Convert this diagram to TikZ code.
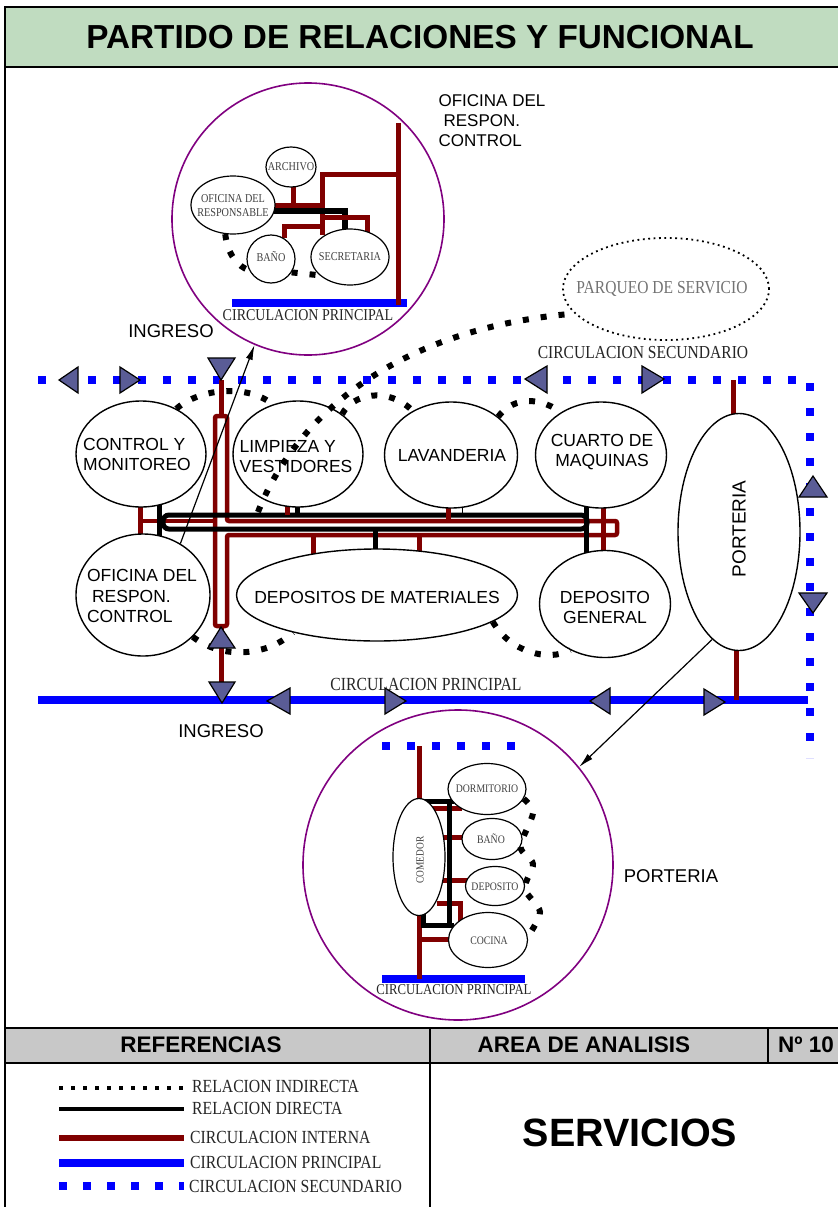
\documentclass[tikz,border=0pt]{standalone}
\usepackage{fontspec}
\setmainfont{Liberation Sans}
\newfontfamily\cser[FakeStretch=0.85]{Liberation Serif}
\usetikzlibrary{shapes.geometric,arrows.meta}
\definecolor{cRed}{RGB}{128,0,0}
\definecolor{cBlue}{RGB}{0,0,255}
\definecolor{cPur}{RGB}{128,0,128}
\definecolor{cTri}{RGB}{90,92,150}
\definecolor{cGreen}{RGB}{192,220,192}
\definecolor{cGray}{RGB}{200,200,200}
\newcommand{\myfs}[2]{\fontsize{#1}{#2}\selectfont}
\begin{document}
\begin{tikzpicture}[x=1pt,y=-1pt,
  el/.style={draw, ellipse, line width=1.4pt, fill=white, inner sep=0pt},
  sel/.style={draw, ellipse, line width=1.2pt, fill=white, inner sep=0pt},
  etxt/.style={inner sep=0pt, font=\myfs{17.5}{20}},
  stxt/.style={inner sep=0pt, font=\cser\myfs{12}{14}, text=black!75, align=center},
  rd/.style={draw=cRed, line width=5pt},
  bk/.style={draw=black, line width=5pt},
  ind/.style={draw=black, line width=6pt, dash pattern=on 6pt off 12pt},
  prin/.style={draw=cBlue, line width=8pt},
  secu/.style={draw=cBlue, line width=8pt, dash pattern=on 8pt off 17pt},
  tri/.style={fill=cTri, draw=black, line width=1.2pt, line join=miter},
  ring/.style={draw=cPur, line width=1.6pt, circle, inner sep=0pt},
  lab/.style={font=\cser\myfs{18.5}{20}, text=black!85, inner sep=0pt},
  slab/.style={font=\myfs{18.5}{20}, inner sep=0pt},
  arr/.style={draw=black, line width=1.2pt, -{Latex[length=15pt,width=7pt]}},
  hdr/.style={font=\bfseries\myfs{22.5}{24}, inner sep=0pt}
]
\useasboundingbox (0,0) rectangle (838,1207);
\fill[white] (0,0) rectangle (838,1207);

% ---------- frame and title ----------
\fill[cGreen] (5,7) rectangle (838,67);
\fill[cGray] (5,1028) rectangle (838,1063);
\draw[line width=2.5pt] (838,7) -- (5,7) -- (5,1207);
\draw[line width=2.5pt] (5,67) -- (838,67);
\draw[line width=2.5pt] (5,1028) -- (838,1028);
\draw[line width=2.5pt] (5,1063) -- (838,1063);
\draw[line width=1.8pt] (430,1028) -- (430,1207);
\draw[line width=1.8pt] (768,1028) -- (768,1063);
\node[inner sep=0pt, font=\bfseries\myfs{33.3}{35}] (title) at (420,37) {PARTIDO DE RELACIONES Y FUNCIONAL};
\node[hdr] (hRef) at (201,1045) {REFERENCIAS};
\node[hdr] (hArea) at (584,1045) {AREA DE ANALISIS};
\node[hdr, anchor=west] (hNum) at (778,1045) {Nº 10};
\node[inner sep=0pt, font=\bfseries\myfs{39.5}{40}] (serv) at (630,1133) {SERVICIOS};

% ---------- legend ----------
\coordinate (l1a) at (59,1088); \coordinate (l1b) at (184,1088);
\coordinate (l2a) at (59,1109); \coordinate (l2b) at (184,1109);
\coordinate (l3a) at (59,1138); \coordinate (l3b) at (184,1138);
\coordinate (l4a) at (59,1163); \coordinate (l4b) at (184,1163);
\coordinate (l5a) at (59,1186); \coordinate (l5b) at (184,1186);
\draw[black, line width=4pt, dash pattern=on 4pt off 8pt] (l1a) -- (l1b);
\draw[black, line width=3.5pt] (l2a) -- (l2b);
\draw[cRed, line width=6pt] (l3a) -- (l3b);
\draw[cBlue, line width=8pt] (l4a) -- (l4b);
\draw[cBlue, line width=8pt, dash pattern=on 8pt off 16pt] (l5a) -- (l5b);
\node[lab, anchor=west] (t1) at (192,1086) {RELACION INDIRECTA};
\node[lab, anchor=west] (t2) at (192,1108) {RELACION DIRECTA};
\node[lab, anchor=west] (t3) at (190,1137) {CIRCULACION INTERNA};
\node[lab, anchor=west] (t4) at (190,1162) {CIRCULACION PRINCIPAL};
\node[lab, anchor=west] (t5) at (189,1186) {CIRCULACION SECUNDARIO};

% ---------- circulations ----------
\draw[secu] (38,380) -- (810,380) -- (810,758);
\draw[prin] (38,700) -- (808,700);

% red internal circulation (central)
\draw[rd] (221,380) -- (221,416);
\draw[rd] (221,626) -- (221,700);
\draw[rd, line width=4.5pt, rounded corners=2pt] (227,521) -- (227,416) -- (215,416) -- (215,626) -- (227,626) -- (227,535) -- (617,535) -- (617,521) -- cycle;
\draw[rd] (140,500) -- (140,540);
\draw[rd, line width=3.5pt] (140,521) -- (215,521);
\draw[bk] (159,500) -- (159,540);
\draw[bk, rounded corners=6pt] (163,515) rectangle (587,529);
\draw[rd] (287,500) -- (287,515);
\draw[bk] (297,500) -- (297,515);
\draw[rd] (448,500) -- (448,519);
\draw[black, line width=1pt] (462,500) -- (462,514);
\draw[bk] (586,500) -- (586,556);
\draw[rd] (603,500) -- (603,556);
\draw[rd] (313,535) -- (313,556);
\draw[bk] (375,529) -- (375,556);
\draw[rd] (419,535) -- (419,556);
\draw[rd] (733,380) -- (733,420);
\draw[rd] (736,645) -- (736,700);

% ---------- main ellipses ----------
\node[el, minimum width=130pt, minimum height=106pt] (cont) at (141,454) {};
\node[el, minimum width=130pt, minimum height=106pt] (limp) at (298,454) {};
\node[el, minimum width=133pt, minimum height=106pt] (lava) at (451,455) {};
\node[el, minimum width=131pt, minimum height=106pt] (cuar) at (601,455) {};
\node[el, minimum width=134pt, minimum height=122pt] (ofic) at (143,595) {};
\node[el, minimum width=281pt, minimum height=92pt] (dmat) at (377,595) {};
\node[el, minimum width=131pt, minimum height=107pt] (dgen) at (605,604) {};
\node[el, minimum width=122pt, minimum height=237pt] (port) at (739,532) {};

\node[etxt, align=left] (contT) at (137,454) {CONTROL Y\\MONITOREO};
\node[etxt, align=left] (limpT) at (296,457) {LIMPIEZA Y\\VESTIDORES};
\node[etxt] (lavaT) at (452,455) {LAVANDERIA};
\node[etxt, align=center] (cuarT) at (602,452) {CUARTO DE\\MAQUINAS};
\node[etxt, align=left, font=\myfs{17.5}{20.5}] (oficT) at (142,596) {OFICINA DEL\\\hspace{5pt}RESPON.\\CONTROL};
\node[etxt] (dmatT) at (377,597) {DEPOSITOS DE MATERIALES};
\node[etxt, align=center] (dgenT) at (605,607) {DEPOSITO\\GENERAL};
\node[etxt, rotate=90, font=\myfs{19}{20}] (portT) at (739,529) {PORTERIA};

% ---------- parking ----------
\node[draw, ellipse, line width=1.8pt, dash pattern=on 1.8pt off 3.6pt, minimum width=206pt, minimum height=102pt, inner sep=0pt] (parq) at (666,289) {};
\node[lab, text=black!55, font=\cser\myfs{18.3}{20}] (parqT) at (662,289) {PARQUEO DE SERVICIO};

% ---------- indirect relations (central) ----------
\draw[ind] (cont.52) .. controls (200,388) and (248,384) .. (limp.117);
\draw[ind] (limp.42) .. controls (352,394) and (388,386) .. (lava.131);
\draw[ind] (lava.39) .. controls (510,400) and (535,394) .. (cuar.133);
\draw[ind] (dmat.-13) .. controls (510,652) and (548,662) .. (dgen.233);
\draw[ind] (ofic.-40) .. controls (222,660) and (268,656) .. (dmat.204);
\coordinate (d6s) at (258,512);
\draw[ind] (d6s) .. controls (290,430) and (380,330) .. (parq.195);

% ---------- top detail circle ----------
\node[ring, minimum size=272pt] (topc) at (308,219) {};
\draw[prin] (232,303) -- (407,303);
\draw[rd] (398,123) -- (398,305);
\draw[rd] (398,174) -- (322,174) -- (322,235);
\draw[rd] (293,185) -- (293,205);
\draw[rd] (272,205) -- (322,205);
\draw[bk, line width=6pt] (272,211) -- (345,211) -- (345,232);
\draw[rd] (322,217) -- (367,217) -- (367,233);
\draw[rd] (322,226) -- (284,226) -- (284,238);
\node[sel, minimum width=50pt, minimum height=40pt] (arch) at (291,167) {};
\node[sel, minimum width=84pt, minimum height=58pt] (ores) at (233,205) {};
\node[sel, minimum width=48pt, minimum height=48pt] (bano) at (271,259) {};
\node[sel, minimum width=78pt, minimum height=56pt] (secr) at (350,257) {};
\node[stxt] (archT) at (291,167) {ARCHIVO};
\node[stxt] (oresT) at (233,206) {OFICINA DEL\\RESPONSABLE};
\node[stxt] (banoT) at (271,257) {BAÑO};
\node[stxt] (secrT) at (350,257) {SECRETARIA};
\draw[ind] (ores.255) .. controls (228,256) and (238,266) .. (bano.208);
\draw[ind] (bano.-33) -- (secr.211);
\node[lab, font=\cser\myfs{16.5}{18}] (cpTop) at (308,315) {CIRCULACION PRINCIPAL};
\node[slab, align=left, font=\myfs{17}{20}] (oficLbl) at (492,121) {OFICINA DEL\\\hspace{5pt}RESPON.\\CONTROL};

% ---------- bottom detail circle ----------
\node[ring, minimum size=310pt] (botc) at (458,865) {};
\draw[secu] (382,746) -- (526,746);
\draw[prin] (382,979) -- (525,979);
\draw[rd] (419,746) -- (419,979);
\draw[rd] (430,808) -- (462,808);
\draw[rd] (440,837) -- (466,837);
\draw[rd] (440,880) -- (468,880);
\draw[rd] (437,903) -- (460,903) -- (460,922);
\draw[rd] (419,939) -- (450,939);
\draw[bk] (424,801) -- (454,801);
\draw[bk] (449,801) -- (449,925);
\draw[bk] (423,914) -- (423,925) -- (454,925);
\node[sel, minimum width=52pt, minimum height=117pt] (comd) at (419,857) {};
\node[sel, minimum width=78pt, minimum height=51pt] (dorm) at (487,789) {};
\node[sel, minimum width=60pt, minimum height=41pt] (ban2) at (492,839) {};
\node[sel, minimum width=59pt, minimum height=39pt] (depo) at (495,886) {};
\node[sel, minimum width=79pt, minimum height=55pt] (coci) at (488,940) {};
\node[stxt, rotate=90, font=\cser\myfs{11}{12}] (comdT) at (420,860) {COMEDOR};
\node[stxt, font=\cser\myfs{11.5}{12}] (dormT) at (487,789) {DORMITORIO};
\node[stxt, font=\cser\myfs{11.5}{12}] (ban2T) at (491,839) {BAÑO};
\node[stxt, font=\cser\myfs{11.5}{12}] (depoT) at (495,887) {DEPOSITO};
\node[stxt, font=\cser\myfs{11.5}{12}] (cociT) at (489,941) {COCINA};
\draw[ind] plot[smooth] coordinates {(dorm.-15) (533,813) (ban2.-15) (533,864) (depo.-5) (540,912) (coci.5)};
\node[lab, font=\cser\myfs{15}{16}] (cpBot) at (454,990) {CIRCULACION PRINCIPAL};
\node[slab] (portLbl) at (671,876) {PORTERIA};

% ---------- triangles ----------
\draw[tri] (59,380) -- (78,367) -- (78,393) -- cycle;
\draw[tri] (140,380) -- (120,367) -- (120,393) -- cycle;
\draw[tri] (221,380) -- (208,358) -- (235,358) -- cycle;
\draw[tri] (525,379) -- (547,366) -- (547,393) -- cycle;
\draw[tri] (664,379) -- (642,366) -- (642,393) -- cycle;
\draw[tri] (813,476) -- (799,497) -- (827,497) -- cycle;
\draw[tri] (813,613) -- (799,593) -- (827,593) -- cycle;
\draw[tri] (221,627) -- (208,648) -- (235,648) -- cycle;
\draw[tri] (222,703) -- (209,682) -- (235,682) -- cycle;
\draw[tri] (267,701) -- (290,688) -- (290,714) -- cycle;
\draw[tri] (406,701) -- (385,688) -- (385,714) -- cycle;
\draw[tri] (590,701) -- (610,688) -- (610,714) -- cycle;
\draw[tri] (725,702) -- (704,689) -- (704,715) -- cycle;

% ---------- labels ----------
\node[slab] (ingTop) at (171,331) {INGRESO};
\node[slab] (ingBot) at (221,731) {INGRESO};
\node[lab] (cpMain) at (426,684) {CIRCULACION PRINCIPAL};
\node[lab, font=\cser\myfs{18.3}{20}] (csLbl) at (643,353) {CIRCULACION SECUNDARIO};

% ---------- arrows ----------
\draw[arr] (ofic.54) -- (topc.247.6);
\draw[arr] (port.256) -- (botc.39);
\end{tikzpicture}
\end{document}
